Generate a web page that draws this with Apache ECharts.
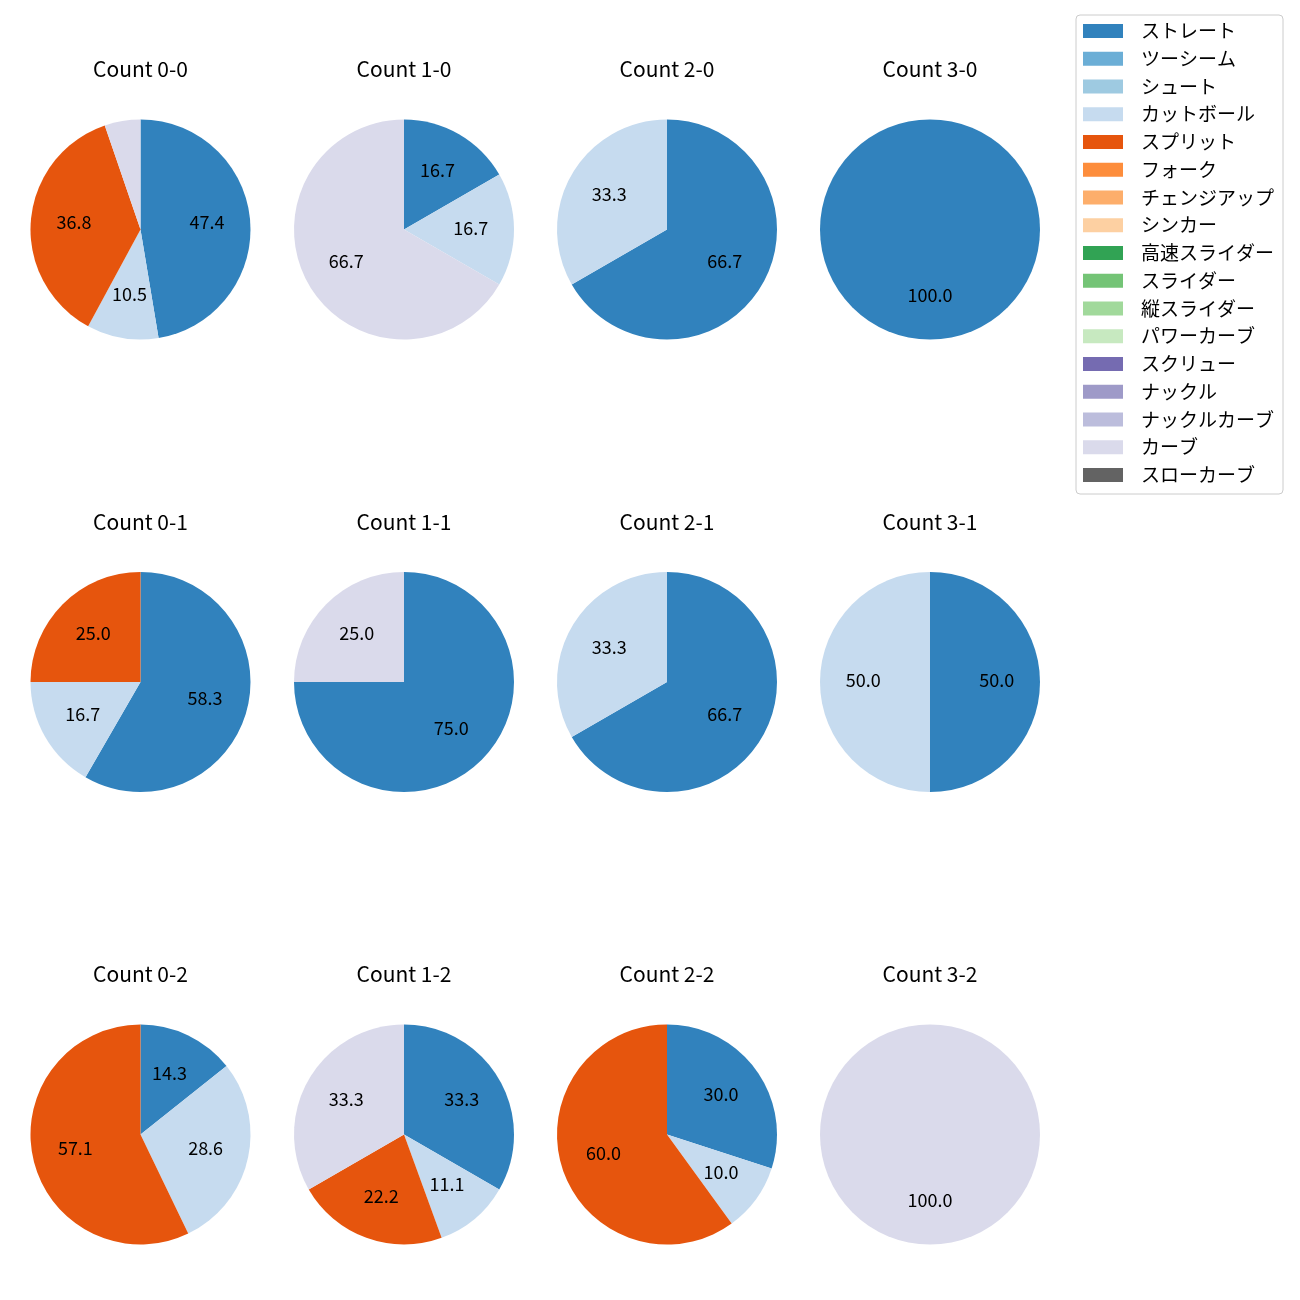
<!DOCTYPE html>
<html>
<head>
<meta charset="utf-8">
<script src="https://cdn.jsdelivr.net/npm/echarts@6/dist/echarts.min.js"></script>
<style>
html,body{margin:0;padding:0;background:#fff;}
#main{width:1300px;height:1300px;}
</style>
</head>
<body>
<div id="main"></div>
<script>
// ---- data ----
const categories = ['ストレート','ツーシーム','シュート','カットボール','スプリット','フォーク','チェンジアップ','シンカー','高速スライダー','スライダー','縦スライダー','パワーカーブ','スクリュー','ナックル','ナックルカーブ','カーブ','スローカーブ'];
const countLabels = ['0-0','1-0','2-0','3-0','0-1','1-1','2-1','3-1','0-2','1-2','2-2','3-2'];
// pitch counts per ball-strike count (same order as countLabels)
const straight = [9,1,2,1, 7,3,2,1, 1,3,3,0];
const cutball  = [2,1,1,0, 2,0,1,1, 2,1,1,0];
const split    = [7,0,0,0, 3,0,0,0, 4,2,6,0];
const curve    = [1,4,0,0, 0,1,0,0, 0,3,0,1];
const pitchSeries = {'ストレート': straight, 'カットボール': cutball, 'スプリット': split, 'カーブ': curve};

// ---- style ----
const palette = ['#3182bd','#6baed6','#9ecae1','#c6dbef','#e6550d','#fd8d3c','#fdae6b','#fdd0a2','#31a354','#74c476','#a1d99b','#c7e9c0','#756bb1','#9e9ac8','#bcbddc','#dadaeb','#636363'];
const FONT = '"Noto Sans CJK JP", "Noto Sans", sans-serif';
const colX = [140.5, 404, 667, 930];
const rowY = [229.5, 682, 1134.5];
const titleY = [69, 522, 974];
const R = 110;

const series = [];
const labelSeries = [];
const graphics = [];
countLabels.forEach((cl, i) => {
  const cx = colX[i % 4], cy = rowY[Math.floor(i / 4)];
  const data = categories.map((c, k) => ({
    name: c,
    value: pitchSeries[c] ? pitchSeries[c][i] : 0,
    itemStyle: {color: palette[k]}
  }));
  series.push({
    type: 'pie', center: [cx, cy], radius: [0, R], startAngle: 90, clockwise: true,
    avoidLabelOverlap: false, label: {show: false}, labelLine: {show: false},
    emphasis: {disabled: true}, animation: false, data: data
  });
  labelSeries.push({
    type: 'pie', center: [cx, cy], radius: [R * 0.16, R], startAngle: 90, clockwise: true,
    silent: true, avoidLabelOverlap: false, animation: false,
    itemStyle: {color: 'rgba(0,0,0,0)', borderWidth: 0},
    label: {show: true, position: 'inside', color: '#000', fontSize: 18, fontFamily: FONT, offset: [0, -1.5],
      formatter: p => (p.percent >= 8 ? p.percent.toFixed(1) : '')},
    labelLine: {show: false}, emphasis: {disabled: true},
    data: data.map(d => ({name: d.name, value: d.value}))
  });
  graphics.push({
    type: 'text', x: cx, y: titleY[Math.floor(i / 4)],
    style: {text: 'Count ' + cl, fill: '#000', fontSize: 21, fontFamily: FONT, align: 'center', verticalAlign: 'middle'}
  });
});

const chart = echarts.init(document.getElementById('main'), null, {renderer: 'canvas'});
chart.setOption({
  backgroundColor: '#fff',
  animation: false,
  legend: {
    data: categories, orient: 'vertical', left: 1076, top: 15,
    icon: 'rect', itemWidth: 40, itemHeight: 14, itemGap: 7.75,
    selectedMode: false,
    textStyle: {fontSize: 19, fontFamily: FONT, color: '#000', lineHeight: 20, padding: [0, 0, 0, 13]},
    borderColor: '#cccccc', borderWidth: 1, borderRadius: 4,
    padding: [6, 9, 9, 7], backgroundColor: '#fff'
  },
  graphic: graphics,
  series: series.concat(labelSeries)
});
</script>
</body>
</html>
